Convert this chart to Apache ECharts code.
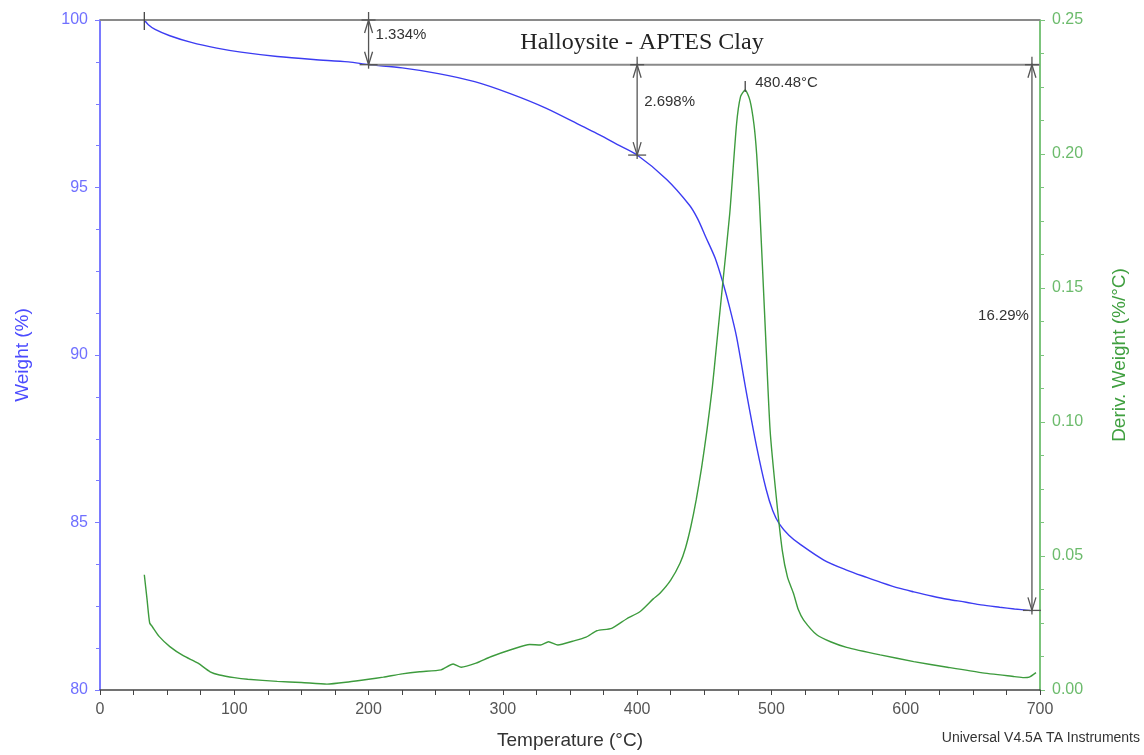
<!DOCTYPE html>
<html>
<head>
<meta charset="utf-8">
<script src="https://cdn.jsdelivr.net/npm/echarts@6/dist/echarts.min.js"></script>
<style>
html,body{margin:0;padding:0;background:#fff;}
#chart{width:1144px;height:755px;}
</style>
</head>
<body>
<div id="chart"></div>
<script>
// ---- Data ----
const weightTemp = [33, 36, 41, 52, 68, 87, 105, 132, 159, 185, 200, 225, 252, 279, 305, 332, 359, 372, 385, 400, 422, 439, 445, 451, 458, 464, 469, 474, 481, 489, 496, 501, 506, 513, 521, 539, 556, 571, 581, 595, 606, 620, 631, 645, 656, 670, 681, 693];
const weightPct  = [100.0, 99.86, 99.72, 99.53, 99.33, 99.16, 99.04, 98.91, 98.82, 98.75, 98.67, 98.57, 98.40, 98.16, 97.81, 97.37, 96.83, 96.57, 96.29, 95.97, 95.24, 94.47, 94.07, 93.53, 92.90, 92.14, 91.40, 90.55, 88.96, 87.26, 86.00, 85.35, 84.95, 84.62, 84.36, 83.88, 83.58, 83.36, 83.22, 83.04, 82.93, 82.80, 82.71, 82.62, 82.54, 82.47, 82.42, 82.37];

const derivTemp = [33, 35, 37, 39, 44, 52, 62, 73, 82, 89, 100, 110, 132, 150, 169, 185, 200, 211, 225, 238, 254, 263, 269, 280, 291, 307, 320, 328, 334, 341, 352, 362, 370, 381, 392, 402, 412, 417, 425, 432, 436, 440, 444, 448, 452, 456, 459, 464, 469, 474, 477, 480.48, 484, 487, 489, 491, 495.5, 499, 503.6, 508.1, 512, 516.4, 520, 524, 534, 544, 556, 581, 606, 631, 656, 681, 688, 692, 697];
const derivVal  = [0.0430, 0.0340, 0.0250, 0.0236, 0.0200, 0.0162, 0.0128, 0.0100, 0.0068, 0.0056, 0.0046, 0.0040, 0.0032, 0.0028, 0.0022, 0.0030, 0.0040, 0.0048, 0.0060, 0.0068, 0.0075, 0.0097, 0.0085, 0.0100, 0.0124, 0.0152, 0.0170, 0.0168, 0.0180, 0.0168, 0.0182, 0.0197, 0.0221, 0.0230, 0.0265, 0.0292, 0.0340, 0.0361, 0.0410, 0.0474, 0.0530, 0.0610, 0.0710, 0.0830, 0.0970, 0.1130, 0.1280, 0.1530, 0.1780, 0.2110, 0.2214, 0.2239, 0.2200, 0.2110, 0.2000, 0.1830, 0.1340, 0.0970, 0.0720, 0.0520, 0.0420, 0.0361, 0.0300, 0.0261, 0.0205, 0.0180, 0.0159, 0.0131, 0.0106, 0.0085, 0.0065, 0.0050, 0.0046, 0.0048, 0.0065];

// reference levels: [fromTemp, weight, toTemp]
const refLines = [[0, 100, 700], [200, 98.666, 700]];
// step annotations: [temp, upperWeight, lowerWeight]
const stepTemps  = [200, 400, 694];
const stepUpper  = [100, 98.666, 98.666];
const stepLower  = [98.666, 95.968, 82.376];
const stepLabels = ['1.334%', '2.698%', '16.29%'];
const startMark = [33, 100];
const peakMark = [480.48, 0.2239];
const peakLabel = '480.48°C';

const xTicks = [0, 700, 100];
const yLeft  = [80, 100, 5];
const yRight = [0, 0.25, 0.05];

const titleText = 'Halloysite - APTES Clay';
const footerText = 'Universal V4.5A TA Instruments';

// ---- Chart ----
const chart = echarts.init(document.getElementById('chart'), null, {renderer: 'canvas'});
const FONT = 'Arial, "Liberation Sans", sans-serif';
const ANN = '#555';

const weightData = weightTemp.map((t, i) => [t, weightPct[i]]);
const derivData = derivTemp.map((t, i) => [t, derivVal[i]]);

const option = {
  animation: false,
  backgroundColor: '#fff',
  grid: {left: 100, right: 104, top: 20, bottom: 65, containLabel: false},
  title: {
    text: titleText, left: 637, top: 26, textAlign: 'center',
    textStyle: {fontFamily: '"Liberation Serif", "Times New Roman", serif', fontSize: 24, fontWeight: 'normal', color: '#222'}
  },
  graphic: [{
    type: 'text', right: 4, top: 731,
    style: {text: footerText, font: '14px ' + FONT, fill: '#333'}
  }],
  xAxis: {
    type: 'value', min: xTicks[0], max: xTicks[1], interval: xTicks[2],
    name: 'Temperature (°C)', nameLocation: 'middle', nameGap: 41,
    nameTextStyle: {fontFamily: FONT, fontSize: 19, color: '#333'},
    axisLine: {show: true, onZero: false, lineStyle: {color: '#444', width: 1.5}},
    axisTick: {show: true, length: 5, lineStyle: {color: '#444'}},
    minorTick: {show: true, splitNumber: 4, length: 5, lineStyle: {color: '#444'}},
    axisLabel: {fontFamily: FONT, fontSize: 16, color: '#555', margin: 12},
    splitLine: {show: false}
  },
  yAxis: [{
    type: 'value', position: 'left', min: yLeft[0], max: yLeft[1], interval: yLeft[2],
    name: 'Weight (%)', nameLocation: 'middle', nameGap: 68, nameRotate: 90,
    nameTextStyle: {fontFamily: FONT, fontSize: 19, color: '#4b4bff'},
    axisLine: {show: true, onZero: false, lineStyle: {color: '#7a7aff', width: 2}},
    axisTick: {show: true, length: 5, lineStyle: {color: '#7a7aff'}},
    minorTick: {show: true, splitNumber: 4, length: 4, lineStyle: {color: '#7a7aff'}},
    axisLabel: {fontFamily: FONT, fontSize: 16, color: '#7070ff', margin: 12},
    splitLine: {show: false}
  }, {
    type: 'value', position: 'right', min: yRight[0], max: yRight[1], interval: yRight[2],
    name: 'Deriv. Weight (%/°C)', nameLocation: 'middle', nameGap: 70, nameRotate: 90,
    nameTextStyle: {fontFamily: FONT, fontSize: 19, color: '#3f9f3f'},
    axisLine: {show: true, onZero: false, lineStyle: {color: '#7cc47c', width: 2}},
    axisTick: {show: true, length: 5, lineStyle: {color: '#7cc47c'}},
    minorTick: {show: true, splitNumber: 4, length: 4, lineStyle: {color: '#7cc47c'}},
    axisLabel: {fontFamily: FONT, fontSize: 16, color: '#6cbb6c', margin: 12, formatter: v => v.toFixed(2)},
    splitLine: {show: false}
  }],
  series: [{
    name: 'Weight', type: 'line', yAxisIndex: 0, data: weightData,
    showSymbol: false, smooth: 0.3,
    lineStyle: {color: '#3c3cf2', width: 1.4}, z: 3
  }, {
    name: 'Deriv', type: 'line', yAxisIndex: 1, data: derivData,
    showSymbol: false, smooth: 0.2,
    lineStyle: {color: '#3d9b3d', width: 1.4}, z: 3
  }, {
    name: 'refLines', type: 'custom', yAxisIndex: 0, z: 4, clip: false,
    data: refLines,
    renderItem: function (params, api) {
      const a = api.coord([api.value(0), api.value(1)]);
      const b = api.coord([api.value(2), api.value(1)]);
      return {type: 'line', shape: {x1: a[0], y1: a[1], x2: b[0], y2: b[1]},
        style: {stroke: '#8a8a8a', lineWidth: 2}};
    }
  }, {
    name: 'steps', type: 'custom', yAxisIndex: 0, z: 5, clip: false,
    data: stepTemps.map((t, i) => [t, stepUpper[i], stepLower[i]]),
    renderItem: function (params, api) {
      const i = params.dataIndex;
      const p1 = api.coord([api.value(0), api.value(1)]);
      const p2 = api.coord([api.value(0), api.value(2)]);
      const x = p1[0], y1 = p1[1], y2 = p2[1];
      const ah = 13, aw = 4;
      const st = {stroke: ANN, lineWidth: 1.3, fill: null};
      const ly = [y1 + 15, (y1 + y2) / 2 - 8, (y1 + y2) / 2 - 22][i];
      const right = i === 2;
      return {type: 'group', children: [
        {type: 'line', shape: {x1: x, y1: y1 - 8, x2: x, y2: y2 + 4}, style: st},
        {type: 'polyline', shape: {points: [[x - aw, y1 + ah], [x, y1], [x + aw, y1 + ah]]}, style: st},
        {type: 'polyline', shape: {points: [[x - aw, y2 - ah], [x, y2], [x + aw, y2 - ah]]}, style: st},
        {type: 'line', shape: {x1: x - 9, y1: y2, x2: x + 9, y2: y2}, style: st},
        {type: 'line', shape: {x1: x - 7, y1: y1, x2: x + 7, y2: y1}, style: st},
        {type: 'text', x: right ? x - 3 : x + 7, y: ly,
          style: {text: stepLabels[i], font: '15px ' + FONT, fill: '#333',
            align: right ? 'right' : 'left', verticalAlign: 'middle'}}
      ]};
    }
  }, {
    name: 'startMark', type: 'custom', yAxisIndex: 0, z: 5, clip: false,
    data: [startMark],
    renderItem: function (params, api) {
      const p = api.coord([api.value(0), api.value(1)]);
      return {type: 'line', shape: {x1: p[0], y1: p[1] - 8, x2: p[0], y2: p[1] + 10},
        style: {stroke: '#444', lineWidth: 1.3}};
    }
  }, {
    name: 'peakMark', type: 'custom', yAxisIndex: 1, z: 5, clip: false,
    data: [peakMark],
    renderItem: function (params, api) {
      const p = api.coord([api.value(0), api.value(1)]);
      return {type: 'group', children: [
        {type: 'line', shape: {x1: p[0], y1: p[1] - 9, x2: p[0], y2: p[1] + 2},
          style: {stroke: '#444', lineWidth: 1.3}},
        {type: 'text', x: p[0] + 10, y: p[1] - 7,
          style: {text: peakLabel, font: '15px ' + FONT, fill: '#333', align: 'left', verticalAlign: 'middle'}}
      ]};
    }
  }]
};
chart.setOption(option);
</script>
</body>
</html>
